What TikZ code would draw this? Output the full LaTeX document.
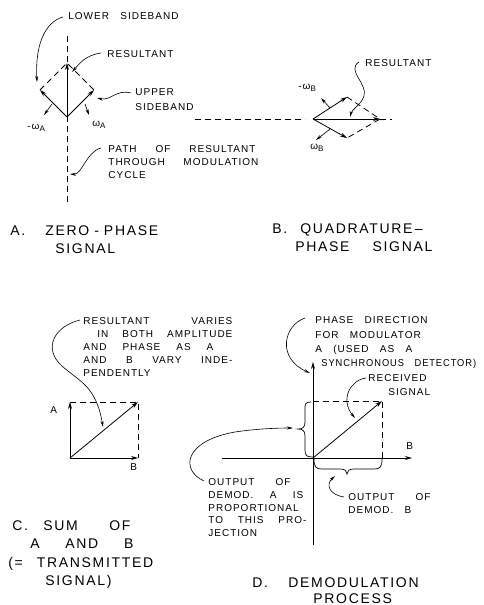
\documentclass[tikz,border=0pt]{standalone}
\usepackage{fontspec}
\newfontfamily\lblfont[LetterSpace=10,WordSpace=3]{Liberation Sans}
\newfontfamily\capfont[LetterSpace=12,WordSpace=2.5]{Liberation Sans}
\usetikzlibrary{arrows.meta}
\begin{document}
\begin{tikzpicture}[x=1pt,y=-1pt,line width=0.8pt,
  vec/.style={-{Stealth[length=7pt,width=4pt]}},
  call/.style={-{Stealth[length=6pt,width=3pt]},line width=0.6pt},
  dsh/.style={dash pattern=on 6pt off 4pt},
  lbl/.style={font=\lblfont\fontsize{10}{#1}\selectfont,inner sep=0pt,align=left,anchor=north west},
  lbl/.default=14,
  lblw/.style={font=\lblfont\fontsize{10}{12}\selectfont,inner sep=0pt,anchor=west},
  capw/.style={font=\capfont\fontsize{14}{17}\selectfont,inner sep=0pt,anchor=west,text height=10pt,text depth=0pt}]
\useasboundingbox (0,0) rectangle (483,605);
\fill[white] (0,0) rectangle (483,605);

% ---------------- Panel A ----------------
\coordinate (OA) at (67,117);
\coordinate (RA) at (67,63);
\coordinate (LA) at (40,90);
\coordinate (UA) at (94,90);
\coordinate (AT) at (67,36);
\coordinate (AB) at (67,203);
\draw[dsh] (AT) -- (AB);
\draw[dsh] (LA) -- (RA) -- (UA);
\draw[vec] (OA) -- (RA);
\draw[vec] (OA) -- (LA);
\draw[vec] (OA) -- (UA);
\coordinate (wa1s) at (52,104); \coordinate (wa1e) at (44,115);
\coordinate (wa2s) at (85,104); \coordinate (wa2e) at (89,115);
\draw[call] (wa1s) -- (wa1e);
\draw[call] (wa2s) -- (wa2e);
\node[lblw] (wa1) at (27,128) {-ω\raisebox{-2.5pt}{\fontsize{8}{8}\selectfont A}};
\node[lblw] (wa2) at (92,125) {ω\raisebox{-2.5pt}{\fontsize{8}{8}\selectfont A}};

\node[lbl] (lsb) at (68,12.5) {LOWER SIDEBAND};
\coordinate (lsbS) at (63,17); \coordinate (lsbE) at (37,82);
\draw[call] (lsbS) .. controls (45,22) and (35,45) .. (lsbE);

\node[lbl] (resA) at (107,50.5) {RESULTANT};
\coordinate (resAS) at (101,53); \coordinate (resAE) at (72,72);
\draw[call] (resAS) .. controls (86,55) and (80,63) .. (resAE);

\node[lbl=15] (usb) at (135,88.5) {UPPER\\SIDEBAND};
\coordinate (usbS) at (131,93); \coordinate (usbE) at (97,98);
\draw[call] (usbS) .. controls (116,89) and (111,101) .. (usbE);

\node[lbl=13] (path) at (108,145.5) {\makebox[147pt][s]{PATH OF RESULTANT}\\\makebox[150pt][s]{THROUGH MODULATION}\\CYCLE};
\coordinate (pathS) at (101,148); \coordinate (pathE) at (70,174);
\draw[call] (pathS) .. controls (86,152) and (82,175) .. (pathE);

\node[capw] (capAn) at (10,230) {A.};
\node[capw] (capA1) at (45,230) {ZERO\hspace{5pt}-\hspace{5pt}PHASE};
\node[capw] (capA2) at (55,248) {SIGNAL};

% ---------------- Panel B ----------------
\coordinate (OB) at (313,119);
\coordinate (RB) at (380,119);
\coordinate (UB) at (347,97);
\coordinate (LB) at (347,138);
\coordinate (BL) at (195,119);
\coordinate (BR) at (392,119);
\draw[dsh] (BL) -- ([xshift=-8pt]OB);
\draw[dsh] (UB) -- (RB) -- (LB);
\draw[dsh] (RB) -- (BR);
\draw[vec] (OB) -- (RB);
\draw[vec] (OB) -- (UB);
\draw[vec] (OB) -- (LB);
\coordinate (wb1s) at (330,108); \coordinate (wb1e) at (321,98);
\coordinate (wb2s) at (330,129); \coordinate (wb2e) at (316,140);
\draw[call] (wb1s) -- (wb1e);
\draw[call] (wb2s) -- (wb2e);
\node[lblw] (wb1) at (298,88) {-ω\raisebox{-2.5pt}{\fontsize{8}{8}\selectfont B}};
\node[lblw] (wb2) at (310,148) {ω\raisebox{-2.5pt}{\fontsize{8}{8}\selectfont B}};

\node[lbl] (resB) at (365,59.5) {RESULTANT};
\coordinate (resBS) at (359,62); \coordinate (resBE) at (350,117);
\draw[call] (resBS) .. controls (346,70) and (368,84) .. (364,96) .. controls (361,105) and (352,109) .. (resBE);

\node[capw] (capBn) at (272,228) {B.};
\node[capw] (capB1) at (300,228) {QUADRATURE\,–};
\node[capw] (capB2) at (295,246) {\makebox[137pt][s]{PHASE SIGNAL}};

% ---------------- Panel C ----------------
\coordinate (CO) at (70,458);
\coordinate (CA) at (70,402);
\coordinate (CB) at (138,458);
\coordinate (CT) at (138,402);
\draw[dsh] (CA) -- (CT) -- (CB);
\draw[vec] (CO) -- (CA);
\draw[vec] (CO) -- (CB);
\draw[vec] (CO) -- (CT);
\node[lblw] (cA) at (50,410) {A};
\node[lblw] (cB) at (130,467) {B};

\node[lbl=13] (resC) at (83,317.5) {\makebox[149pt][s]{RESULTANT VARIES}\\\makebox[149pt][s]{ IN BOTH AMPLITUDE}\\\makebox[130pt][s]{AND PHASE AS A}\\\makebox[149pt][s]{AND B VARY INDE-}\\PENDENTLY};
\coordinate (resCS) at (80,320); \coordinate (resCE) at (103,427);
\draw[call] (resCS) .. controls (55,326) and (42,348) .. (62,366) .. controls (80,382) and (96,386) .. (resCE);

\node[capw] (capCn) at (12,525) {C.};
\node[capw] (capC1) at (43,525) {\makebox[87pt][s]{SUM OF}};
\node[capw] (capC2) at (30,543) {\makebox[103pt][s]{A AND B}};
\node[capw] (capC3) at (8,562) {(= TRANSMITTED};
\node[capw] (capC4) at (45,580) {SIGNAL)};

% ---------------- Panel D ----------------
\coordinate (DO) at (313,458);
\coordinate (DV0) at (313,545);
\coordinate (DV1) at (313,362);
\coordinate (DH0) at (222,458);
\coordinate (DH1) at (412,458);
\coordinate (DT) at (382,401);
\coordinate (DTL) at (313,401);
\coordinate (DTB) at (382,458);
\draw[vec] (DV0) -- (DV1);
\draw[vec] (DH0) -- (DH1);
\draw[dsh] (DTL) -- (DT) -- (DTB);
\draw[vec] (DO) -- (DT);
\node[lblw] (dB) at (406,446) {B};
% braces
\draw[line width=0.7pt] (311,402) .. controls (305,402) and (305,404) .. (305,410) -- (305,422)
  .. controls (305,427) and (303,429) .. (298,429) .. controls (303,429) and (305,431) .. (305,436)
  -- (305,450) .. controls (305,456) and (307,457) .. (313,457);
\draw[line width=0.7pt] (314,459) .. controls (314,467) and (316,469) .. (322,469) -- (340,469)
  .. controls (345,469) and (347,471) .. (347,474) .. controls (347,471) and (349,469) .. (354,469)
  -- (374,469) .. controls (380,469) and (382,467) .. (382,459);

\node[lbl=14.3] (phase) at (315,316.5) {PHASE DIRECTION\\FOR MODULATOR\\A (USED AS A\\\hspace*{6pt}\scalebox{0.93}[1]{SYNCHRONOUS DETECTOR)}};
\coordinate (phS) at (305,318); \coordinate (phE) at (310,373);
\draw[call] (phS) .. controls (284,325) and (276,358) .. (phE);

\node[lbl] (recv) at (368,374.5) {RECEIVED\\\hspace*{20pt}SIGNAL};
\coordinate (rcS) at (366,378); \coordinate (rcE) at (355,418);
\draw[call] (rcS) .. controls (350,380) and (340,400) .. (rcE);

\node[lbl=12.6] (outA) at (208,478.5) {\makebox[82pt][s]{OUTPUT OF}\\\makebox[95pt][s]{DEMOD. A IS}\\PROPORTIONAL\\\makebox[98pt][s]{TO THIS PRO-}\\JECTION};
\coordinate (oaS) at (204,481); \coordinate (oaE) at (293,428);
\draw[call] (oaS) .. controls (180,470) and (184,441) .. (235,432) .. controls (255,429) and (275,428) .. (oaE);

\node[lbl=13] (outB) at (348,493.5) {\makebox[82pt][s]{OUTPUT OF}\\DEMOD. B};
\coordinate (obS) at (344,497); \coordinate (obE) at (335,476);
\draw[call] (obS) .. controls (330,495) and (325,485) .. (obE);

\node[capw] (capDn) at (252,582) {D.};
\node[capw] (capD1) at (288,582) {DEMODULATION};
\node[capw] (capD2) at (313,598) {PROCESS};
\end{tikzpicture}
\end{document}
